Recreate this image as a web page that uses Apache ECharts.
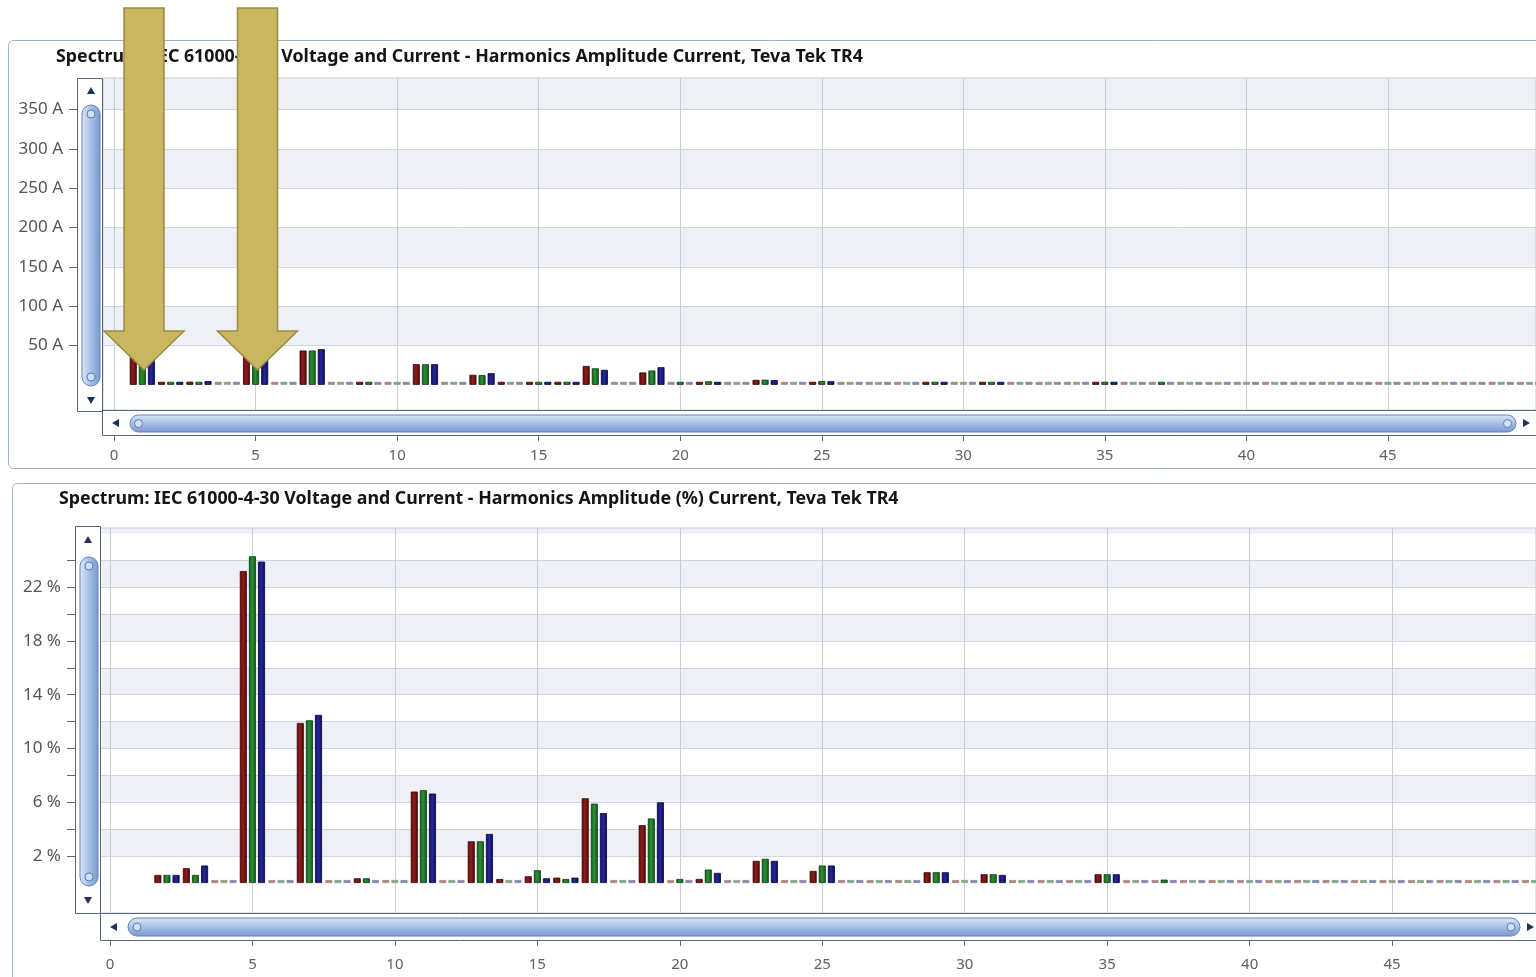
<!DOCTYPE html>
<html>
<head>
<meta charset="utf-8">
<title>Harmonics Spectrum</title>
<script src="https://cdn.jsdelivr.net/npm/echarts@6/dist/echarts.min.js"></script>
<style>
  html, body { margin: 0; padding: 0; background: #ffffff; overflow: hidden; }
  #chart { width: 1536px; height: 977px; }
</style>
</head>
<body>
<div id="chart"></div>
<script>
// Harmonic orders shown on both spectra
const harmonics = [1, 2, 3, 4, 5, 6, 7, 8, 9, 10, 11, 12, 13, 14, 15, 16, 17, 18, 19, 20,
  21, 22, 23, 24, 25, 26, 27, 28, 29, 30, 31, 32, 33, 34, 35, 36, 37, 38, 39, 40,
  41, 42, 43, 44, 45, 46, 47, 48, 49, 50];

// Harmonic amplitude current, A (phases L1, L2, L3)
const ampL1 = [366, 2.2, 4.0, 0, 85, 0, 43.6, 0, 1.3, 0, 26.2, 0, 12.7, 1.0, 2.0, 2.0, 24, 0, 15.7, 0,
  1.0, 0, 6.3, 0, 3.8, 0, 0, 0, 3.0, 0, 3.0, 0, 0, 0, 3.0, 0, 0, 0, 0, 0,
  0, 0, 0, 0, 0, 0, 0, 0, 0, 0];
const ampL2 = [360, 2.2, 2.2, 0, 87.5, 0, 43.6, 0, 1.3, 0, 26.2, 0, 12.3, 0, 3.4, 1.0, 21, 0, 18.2, 1.0,
  4.5, 0, 6.5, 0, 4.8, 0, 0, 0, 3.0, 0, 3.0, 0, 0, 0, 3.0, 0, 0.9, 0, 0, 0,
  0, 0, 0, 0, 0, 0, 0, 0, 0, 0];
const ampL3 = [362, 2.2, 4.7, 0, 86.5, 0, 45.3, 0, 0, 0, 26.2, 0, 14.8, 0, 1.3, 3.0, 19, 0, 22.4, 0,
  3.0, 0, 6.0, 0, 4.6, 0, 0, 0, 3.0, 0, 2.8, 0, 0, 0, 3.0, 0, 0, 0, 0, 0,
  0, 0, 0, 0, 0, 0, 0, 0, 0, 0];

// Harmonic amplitude current, % of fundamental (no value for the fundamental itself)
const pctL1 = [null, 0.6, 1.1, 0, 23.2, 0, 11.9, 0, 0.35, 0, 6.8, 0, 3.1, 0.3, 0.5, 0.4, 6.3, 0, 4.3, 0,
  0.3, 0, 1.65, 0, 0.9, 0, 0, 0, 0.8, 0, 0.65, 0, 0, 0, 0.65, 0, 0, 0, 0, 0,
  0, 0, 0, 0, 0, 0, 0, 0, 0, 0];
const pctL2 = [null, 0.6, 0.6, 0, 24.3, 0, 12.1, 0, 0.35, 0, 6.9, 0, 3.1, 0, 0.95, 0.3, 5.9, 0, 4.8, 0.3,
  1.0, 0, 1.8, 0, 1.3, 0, 0, 0, 0.8, 0, 0.65, 0, 0, 0, 0.65, 0, 0.25, 0, 0, 0,
  0, 0, 0, 0, 0, 0, 0, 0, 0, 0];
const pctL3 = [null, 0.6, 1.3, 0, 23.9, 0, 12.5, 0, 0, 0, 6.65, 0, 3.65, 0, 0.35, 0.4, 5.2, 0, 6.0, 0,
  0.75, 0, 1.65, 0, 1.3, 0, 0, 0, 0.8, 0, 0.6, 0, 0, 0, 0.65, 0, 0, 0, 0, 0,
  0, 0, 0, 0, 0, 0, 0, 0, 0, 0];

// Axis ticks and labels
const xTicks = [0, 5, 10, 15, 20, 25, 30, 35, 40, 45];
const ampTicks = [50, 100, 150, 200, 250, 300, 350];
const pctTicks = [2, 4, 6, 8, 10, 12, 14, 16, 18, 20, 22, 24];
const pctLabels = [2, 6, 10, 14, 18, 22];

// Shaded horizontal bands
const ampBands = [[50, 100], [150, 200], [250, 300], [350, 390]];
const pctBands = [[2, 4], [6, 8], [10, 12], [14, 16], [18, 20], [22, 24], [26, 26.4]];

const titles = [
  'Spectrum: IEC 61000-4-30 Voltage and Current - Harmonics Amplitude Current, Teva Tek TR4',
  'Spectrum: IEC 61000-4-30 Voltage and Current - Harmonics Amplitude (%) Current, Teva Tek TR4'
];

const phases = [
  { name: 'L1', edge: '#530707', mid: '#8f1e1d', border: '#3a0404', flat: '#a88484' },
  { name: 'L2', edge: '#10541a', mid: '#2c9235', border: '#0a3c10', flat: '#84a488' },
  { name: 'L3', edge: '#0a0a58', mid: '#2828a0', border: '#05053c', flat: '#8686ac' }
];

const FONT = 'Noto Sans';

function barFill(p) {
  return {
    type: 'linear', x: 0, y: 0, x2: 1, y2: 0,
    colorStops: [
      { offset: 0, color: p.edge },
      { offset: 0.45, color: p.mid },
      { offset: 1, color: p.edge }
    ]
  };
}

function barSeries(phase, values, gridIdx, bands) {
  const data = [];
  harmonics.forEach(function (h, i) {
    const v = values[i];
    if (v === null || v === undefined) return;
    if (v === 0) {
      data.push({ value: [h, 0], itemStyle: { color: phase.flat, borderColor: phase.flat } });
    } else {
      data.push([h, v]);
    }
  });
  const s = {
    name: phase.name,
    type: 'bar',
    xAxisIndex: gridIdx,
    yAxisIndex: gridIdx,
    barWidth: 7,
    barGap: '30%',
    barMinHeight: 3,
    silent: true,
    itemStyle: { color: barFill(phase), borderColor: phase.border, borderWidth: 0.8 },
    data: data
  };
  if (bands) {
    s.markArea = {
      silent: true,
      itemStyle: { color: 'rgba(188,198,220,0.26)' },
      data: bands.map(function (b) { return [{ yAxis: b[0] }, { yAxis: b[1] }]; })
    };
  }
  return s;
}

function xAxisCfg(gridIdx, min, max, offset, labelMargin) {
  return {
    type: 'value', gridIndex: gridIdx, min: min, max: max, position: 'bottom', offset: offset,
    axisLine: { show: false, onZero: false },
    axisTick: { show: true, length: 6, lineStyle: { color: '#6b6b6b' }, customValues: xTicks },
    axisLabel: { color: '#606060', fontFamily: FONT, fontSize: 15, margin: labelMargin, customValues: xTicks },
    splitLine: { show: true, lineStyle: { color: '#c9ceda', width: 1 } }
  };
}

function yAxisCfg(gridIdx, min, max, offset, ticks, labels, unit) {
  return {
    type: 'value', gridIndex: gridIdx, min: min, max: max, position: 'left', offset: offset,
    axisLine: { show: false, onZero: false },
    axisTick: { show: true, length: 8, lineStyle: { color: '#6b6b6b' }, customValues: ticks },
    axisLabel: {
      color: '#555555', fontFamily: FONT, fontSize: 17, margin: 14, customValues: labels,
      formatter: function (v) { return v + ' ' + unit; }
    },
    splitLine: { show: true, lineStyle: { color: '#d3d8e1', width: 1 } }
  };
}

// Scrollbar decoration (track box, rounded thumb, grips and arrow glyphs)
function scrollbar(vertical, box, thumb, arrows) {
  const els = [];
  els.push({
    type: 'rect', z: 50, shape: { x: box[0], y: box[1], width: box[2], height: box[3] },
    style: { fill: '#ffffff', stroke: '#56677e', lineWidth: 1 }
  });
  const stops = [
    { offset: 0, color: '#dbe7f7' }, { offset: 0.45, color: '#a9c3e8' }, { offset: 1, color: '#7898cc' }];
  const grad = vertical
    ? { type: 'linear', x: 0, y: 0, x2: 1, y2: 0, colorStops: stops }
    : { type: 'linear', x: 0, y: 0, x2: 0, y2: 1, colorStops: stops };
  const r = (vertical ? thumb[2] : thumb[3]) / 2;
  els.push({
    type: 'rect', z: 51, shape: { x: thumb[0], y: thumb[1], width: thumb[2], height: thumb[3], r: r },
    style: { fill: grad, stroke: '#6283ba', lineWidth: 1 }
  });
  const grips = vertical
    ? [[thumb[0] + thumb[2] / 2, thumb[1] + r], [thumb[0] + thumb[2] / 2, thumb[1] + thumb[3] - r]]
    : [[thumb[0] + r, thumb[1] + thumb[3] / 2], [thumb[0] + thumb[2] - r, thumb[1] + thumb[3] / 2]];
  grips.forEach(function (g) {
    els.push({
      type: 'circle', z: 52, shape: { cx: g[0], cy: g[1], r: 4 },
      style: { fill: '#cfe0f5', stroke: '#5c7db3', lineWidth: 1 }
    });
  });
  arrows.forEach(function (a) {
    els.push({
      type: 'polygon', z: 52, shape: { points: a },
      style: { fill: '#1e2f5e' }
    });
  });
  return els;
}

// Pointer arrows drawn over the top spectrum
function bigArrow(cx) {
  const pts = [[cx - 20, 8], [cx + 20, 8], [cx + 20, 331], [cx + 40, 331], [cx, 370], [cx - 40, 331], [cx - 20, 331]];
  return {
    type: 'polygon', z: 100, shape: { points: pts },
    style: { fill: '#c9b660', stroke: '#9b8a42', lineWidth: 1.5 }
  };
}

const graphics = [
  // chart panels
  { type: 'rect', z: -10, shape: { x: 8.5, y: 40.5, width: 1545, height: 428, r: 5 },
    style: { fill: '#ffffff', stroke: '#a3b2c7', lineWidth: 1 } },
  { type: 'rect', z: -10, shape: { x: 12.5, y: 483.5, width: 1545, height: 520, r: 5 },
    style: { fill: '#ffffff', stroke: '#a3b2c7', lineWidth: 1 } }
]
  .concat(scrollbar(true, [77.5, 78.5, 25, 333], [82, 105, 18, 281],
    [[[87, 94], [95, 94], [91, 87]], [[87, 397], [95, 397], [91, 404]]]))
  .concat(scrollbar(false, [102.5, 410.5, 1445, 25], [130, 415, 1386, 17],
    [[[119, 419], [119, 427], [112, 423]], [[1523, 419], [1523, 427], [1530, 423]]]))
  .concat(scrollbar(true, [75.5, 526.5, 25, 387], [80, 557, 18, 329],
    [[[84, 543], [92, 543], [88, 536]], [[84, 897], [92, 897], [88, 904]]]))
  .concat(scrollbar(false, [100.5, 913.5, 1445, 27], [128, 918, 1392, 18],
    [[[117, 923], [117, 931], [110, 927]], [[1527, 923], [1527, 931], [1534, 927]]]))
  .concat([bigArrow(144), bigArrow(257.5)]);

const option = {
  animation: false,
  backgroundColor: '#ffffff',
  title: [
    { text: titles[0], left: 51, top: 43,
      textStyle: { fontFamily: FONT, fontWeight: 'bold', fontSize: 17.8, color: '#141414' } },
    { text: titles[1], left: 54, top: 485,
      textStyle: { fontFamily: FONT, fontWeight: 'bold', fontSize: 17.8, color: '#141414' } }
  ],
  grid: [
    { left: 103, top: 78, width: 1433, height: 332, show: true, backgroundColor: '#ffffff',
      borderColor: '#c6cdd9', borderWidth: 1 },
    { left: 100, top: 528, width: 1436, height: 385, show: true, backgroundColor: '#ffffff',
      borderColor: '#c6cdd9', borderWidth: 1 }
  ],
  xAxis: [
    xAxisCfg(0, -0.39, 50.23, 25, 13),
    xAxisCfg(1, -0.35, 50.05, 27, 17)
  ],
  yAxis: [
    yAxisCfg(0, -32, 390, 26, ampTicks, ampTicks, 'A'),
    yAxisCfg(1, -2.23, 26.4, 25, pctTicks, pctLabels, '%')
  ],
  series: [
    barSeries(phases[0], ampL1, 0, ampBands),
    barSeries(phases[1], ampL2, 0, null),
    barSeries(phases[2], ampL3, 0, null),
    barSeries(phases[0], pctL1, 1, pctBands),
    barSeries(phases[1], pctL2, 1, null),
    barSeries(phases[2], pctL3, 1, null)
  ],
  graphic: graphics
};

const chart = echarts.init(document.getElementById('chart'));
chart.setOption(option);
</script>
</body>
</html>
